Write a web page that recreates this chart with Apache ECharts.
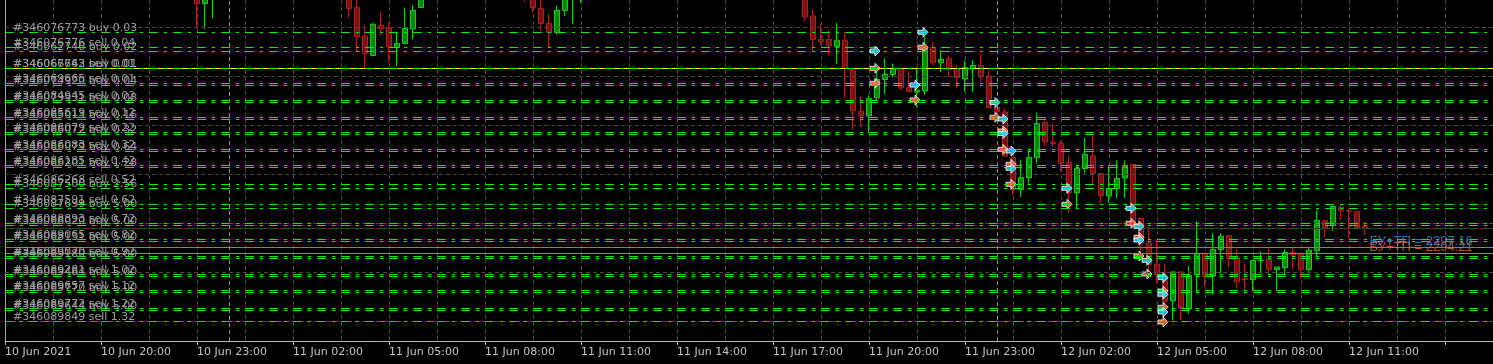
<!DOCTYPE html>
<html><head><meta charset="utf-8">
<script src="https://cdn.jsdelivr.net/npm/echarts@6/dist/echarts.min.js"></script>
<style>html,body{margin:0;padding:0;background:#000;}#c{width:1493px;height:364px;}</style>
</head><body><div id="c"></div>
<script>
// ---------- time slots (M15 bars) ----------
const startTime = '2021-06-10T17:00:00Z';
const slotMinutes = 15;
const slotCount = 187;
const tickLabels = ['10 Jun 2021','10 Jun 20:00','10 Jun 23:00','11 Jun 02:00','11 Jun 05:00','11 Jun 08:00','11 Jun 11:00','11 Jun 14:00','11 Jun 17:00','11 Jun 20:00','11 Jun 23:00','12 Jun 02:00','12 Jun 05:00','12 Jun 08:00','12 Jun 11:00'];
const daySeparators = ['2021.06.11 00:00','2021.06.12 00:00'];

// ---------- candles (visible ones only) ----------
const candleIdx = [24,25,26,43,44,45,46,47,48,49,50,51,52,65,66,67,68,69,70,71,72,
 100,101,102,103,104,105,106,107,108,109,110,111,112,113,114,115,116,117,118,119,120,121,122,123,124,125,126,127,128,129,130,
 131,132,133,134,135,136,137,138,139,140,141,142,143,144,145,146,147,148,149,150,151,152,153,154,155,156,157,158,159,160,
 161,162,163,164,165,166,167,168,169,170];
const opens = [2424.8,2419.15,2423.3,2425.8,2417.15,2402.8,2393.15,2408.3,2406.8,2397.15,2399.15,2406.45,2417.15,2428.3,2423.8,2416.65,2409.15,2404.65,2415.65,2422.8,2423.8,
 2424.8,2412.95,2401.3,2401.3,2397.45,2400.8,2385.8,2365.3,2362.95,2371.95,2381.15,2383.65,2386.65,2377.15,2374.95,2375.45,2397.15,2389.45,2391.65,2386.65,2381.45,2386.65,2388.15,2382.8,2367.15,2364.95,2342.15,2326.15,2332.15,2342.15,2359.65,
 2349.8,2349.15,2339.65,2324.45,2336.65,2342.95,2334.15,2322.95,2326.65,2331.95,2338.8,2311.65,2299.45,2288.8,2282.95,2270.45,2284.95,2266.45,2283.65,2294.15,2282.8,2296.15,2303.15,2292.3,2281.55,2281.15,2290.55,2291.15,2286.15,2287.15,
 2294.65,2293.8,2286.15,2295.45,2310.65,2308.15,2317.15,2315.55,2315.15,2307.8];
const closes = [2419.15,2424.8,2426.8,2416.65,2402.45,2394.15,2408.8,2406.45,2397.45,2399.15,2406.65,2415.65,2423.8,2424.8,2417.15,2409.15,2404.65,2415.65,2423.8,2426.8,2427.8,
 2412.45,2401.15,2400.15,2398.15,2400.8,2386.65,2365.45,2362.95,2371.65,2381.15,2383.8,2386.65,2376.95,2375.15,2375.8,2396.95,2389.45,2391.15,2386.15,2382.15,2387.15,2388.15,2382.45,2367.15,2364.95,2342.8,2326.15,2332.15,2342.15,2359.15,2349.95,
 2349.15,2339.15,2324.45,2336.65,2343.8,2334.15,2322.95,2326.65,2331.65,2338.15,2309.15,2299.15,2288.65,2283.65,2270.3,2284.95,2266.95,2283.3,2294.15,2282.8,2296.15,2302.8,2291.55,2279.95,2281.15,2290.65,2290.8,2286.15,2287.45,2294.65,
 2293.45,2286.15,2295.8,2310.65,2306.65,2317.65,2315.45,2315.3,2307.15,2306.65];
const lows = [2406.65,2406.3,2411.65,2411.95,2394.95,2386.65,2392.8,2403.3,2389.8,2387.8,2399.15,2401.3,2417.15,2419.95,2414.45,2405.3,2396.95,2403.65,2412.95,2408.8,2419.45,
 2410.45,2394.95,2398.3,2393.3,2389.15,2371.65,2356.15,2357.45,2354.3,2370.8,2373.8,2382.15,2375.8,2374.95,2367.45,2373.3,2388.3,2384.95,2382.45,2377.15,2374.95,2374.95,2379.95,2366.65,2364.15,2342.45,2323.3,2322.45,2329.15,2339.15,2347.95,
 2347.45,2334.95,2314.45,2316.65,2334.15,2328.3,2319.45,2319.45,2321.65,2321.95,2306.65,2294.95,2281.8,2279.15,2267.8,2260.8,2260.8,2264.15,2274.45,2277.45,2273.65,2284.3,2287.15,2276.65,2273.65,2275.3,2284.15,2283.3,2275.3,2283.3,
 2286.15,2281.45,2285.15,2292.8,2302.45,2305.45,2310.8,2301.65,2305.8,2303.3];
const highs = [2428.3,2428.3,2428.3,2428.3,2422.3,2408.3,2409.45,2414.8,2409.8,2404.65,2417.15,2418.45,2426.8,2430.8,2426.8,2422.3,2413.8,2418.15,2425.8,2428.8,2429.8,
 2427.8,2416.15,2408.8,2406.15,2409.45,2404.65,2386.65,2372.8,2373.3,2385.8,2391.65,2389.15,2387.45,2385.3,2387.45,2402.45,2399.95,2395.8,2393.3,2388.3,2390.45,2390.8,2393.8,2385.8,2367.45,2366.65,2342.45,2341.15,2346.15,2364.65,2362.15,
 2359.15,2350.8,2342.8,2338.3,2351.95,2353.3,2334.15,2338.3,2340.8,2340.8,2338.8,2312.15,2307.45,2300.8,2288.65,2284.95,2284.95,2287.95,2310.3,2294.15,2304.3,2304.15,2303.15,2296.3,2289.15,2290.65,2295.3,2296.65,2287.45,2296.15,
 2297.45,2293.8,2296.95,2315.8,2310.65,2317.65,2318.8,2316.65,2315.15,2310.15];

// ---------- order lines ----------
const orderPrices = [2404.66,2397.16,2395.16,2386.66,2386.66,2379.16,2378.16,2370.66,2369.66,2362.16,2361.16,2354.66,2353.66,2346.16,2345.16,2338.16,2337.16,
 2328.66,2326.66,2318.66,2316.66,2309.16,2308.16,2301.16,2300.16,2292.66,2291.66,2283.66,2282.66,2275.66,2274.66,2266.66,2265.66,2260.16];
const orderLabels = ['#346076773 buy 0.03','#346076776 sell 0.04','#346062740 buy 0.02','#346067763 sell 0.01','#346066642 buy 0.01','#346069665 sell 0.01','#346074920 buy 0.04',
 '#346084945 sell 0.02','#346079931 buy 0.08','#346085619 sell 0.12','#346085013 buy 0.16','#346086079 sell 0.22','#346086072 buy 0.32','#346086083 sell 0.32','#346086079 buy 0.64',
 '#346086185 sell 0.42','#346086201 buy 1.28','#346086268 sell 0.52','#346087500 buy 2.56','#346087591 sell 0.62','#346087699 buy 5.00','#346088893 sell 0.72','#346088020 buy 5.00',
 '#346089065 sell 0.82','#346088131 buy 5.00','#346089070 sell 0.92','#346089180 buy 5.00','#346089281 sell 1.02','#346089484 buy 5.00','#346089657 sell 1.12','#346089770 buy 5.00',
 '#346089772 sell 1.22','#346089644 buy 5.00','#346089849 sell 1.32'];
const yellowLevel = 2386.66;
const bidLevel = 2306.66;
const tpPrices = [2297.16, 2294.21];
const tpTexts = ['БУ+ТП = 2297.16', 'БУ+ТП = 2294.21'];
const tpAnchorTime = '2021.06.12 11:45';
const priceGrid = [2407.16,2382.66,2358.16,2333.66,2309.16,2284.66,2260.16];

// ---------- order arrows [slot index, price] ----------
const buyArrows = [[115,2404.76],[109,2395.41],[114,2378.41],[124,2369.66],[125,2361.41],[125,2354.16],[126,2345.41],[126,2336.76],[133,2326.76],
 [141,2316.76],[142,2307.76],[142,2300.91],[143,2290.76],[145,2282.06],[145,2273.76],[145,2264.91]];
const sellArrows = [[115,2397.26],[109,2386.76],[109,2379.26],[114,2370.91],[124,2362.26],[125,2355.41],[125,2346.26],[126,2338.76],[126,2328.76],
 [133,2318.76],[141,2309.26],[142,2302.26],[142,2292.91],[143,2283.91],[145,2275.41],[145,2267.26],[145,2259.91]];

// ---------- build ----------
function pad(n){return (n<10?'0':'')+n;}
const t0 = new Date(startTime).getTime();
const categories = [];
for (let i = 0; i < slotCount; i++) {
  const d = new Date(t0 + i*slotMinutes*60000);
  categories.push(d.getUTCFullYear()+'.'+pad(d.getUTCMonth()+1)+'.'+pad(d.getUTCDate())+' '+pad(d.getUTCHours())+':'+pad(d.getUTCMinutes()));
}
const ohlc = categories.map(() => '-');
candleIdx.forEach((k, i) => { ohlc[k] = [opens[i], closes[i], lows[i], highs[i]]; });

const FONT = 'DejaVu Sans';
const GREEN_DASH = [9,6,3,6];

const levelLines = [];
levelLines.push({yAxis: yellowLevel, lineStyle:{color:'#ffff00', type:'solid'}, label:{show:false}});
orderPrices.forEach((p, i) => levelLines.push({yAxis: p, name: orderLabels[i]}));
levelLines.push({yAxis: bidLevel, lineStyle:{color:'#3a3a3a', type:'solid'}, label:{show:false}});
levelLines.push({yAxis: tpPrices[0], lineStyle:{color:'#3d8ee6', type:'solid'}, label:{show:false}});
levelLines.push({yAxis: tpPrices[1], lineStyle:{color:'#e8604a', type:'solid'}, label:{show:false}});
const tpColors = ['#3d8ee6', '#e8604a'];

const arrowPath = 'path://M0,3L5,3L5,0L10,5L5,10L5,7L0,7Z';

const chart = echarts.init(document.getElementById('c'), null, {renderer:'canvas'});
chart.setOption({
  backgroundColor: '#000000',
  animation: false,
  grid: {left: 5, right: 0, top: 0, bottom: 23},
  xAxis: {
    type: 'category', data: categories, boundaryGap: false,
    axisLine: {show: true, lineStyle: {color: '#b8b8b8', width: 1}},
    axisTick: {show: true, interval: 11, length: 4, lineStyle: {color: '#b8b8b8'}},
    axisLabel: {interval: 11, align: 'left', margin: 6, color: '#c4c4c4', fontFamily: FONT, fontSize: 11,
      formatter: (v, idx) => (idx % 12 === 0 && tickLabels[idx/12]) ? tickLabels[idx/12] : ''},
    splitLine: {show: true, interval: 5, lineStyle: {color: '#474747', type: [4,3], width: 1}}
  },
  yAxis: {
    type: 'value', min: 2250.41, max: 2420.91, scale: true,
    axisLine: {show: true, lineStyle: {color: '#a8a8a8'}},
    axisTick: {show: false}, axisLabel: {show: false}, splitLine: {show: false}
  },
  series: [
    {
      type: 'line', data: [], z: 1, silent: true,
      markLine: {
        silent: true, symbol: 'none', animation: false,
        label: {show: false},
        lineStyle: {color: '#474747', type: [4,3], width: 1},
        data: priceGrid.map(p => ({yAxis: p})).concat(
          daySeparators.map(t => ({xAxis: t, lineStyle: {color: '#8c8c8c', type: [4,3], width: 1}})))
      }
    },
    {
      type: 'candlestick', data: ohlc, z: 2, barWidth: 5, clip: true,
      itemStyle: {color: '#0b870b', borderColor: '#1ec81e', color0: '#7a1010', borderColor0: '#a82020', borderWidth: 1}
    },
    {
      type: 'line', data: [], z: 3, silent: true,
      markLine: {
        silent: true, symbol: 'none', animation: false,
        lineStyle: {color: '#00f000', type: GREEN_DASH, width: 1},
        label: {show: true, position: 'insideStartTop', distance: [8, -1], formatter: '{b}',
          color: '#9c9c9c', fontFamily: FONT, fontSize: 11},
        data: levelLines
      }
    },
    {
      type: 'scatter', data: sellArrows, z: 4, symbol: arrowPath, symbolSize: [10, 10], symbolOffset: [-2, 0],
      itemStyle: {color: '#ff7452', borderColor: '#ffffff', borderWidth: 1}, silent: true
    },
    {
      type: 'scatter', data: buyArrows, z: 5, symbol: arrowPath, symbolSize: [10, 10], symbolOffset: [-2, 0],
      itemStyle: {color: '#1ee6ff', borderColor: '#ffffff', borderWidth: 1}, silent: true
    },
    {
      type: 'scatter', z: 6, symbol: 'circle', symbolSize: 1, silent: true,
      itemStyle: {color: 'rgba(0,0,0,0)'},
      data: tpPrices.map((p, i) => ({value: [tpAnchorTime, p], name: tpTexts[i],
        label: {color: tpColors[i]}})),
      label: {show: true, position: [-3, -12], formatter: '{b}', fontFamily: 'Liberation Sans', fontSize: 13}
    }
  ]
});
</script></body></html>
